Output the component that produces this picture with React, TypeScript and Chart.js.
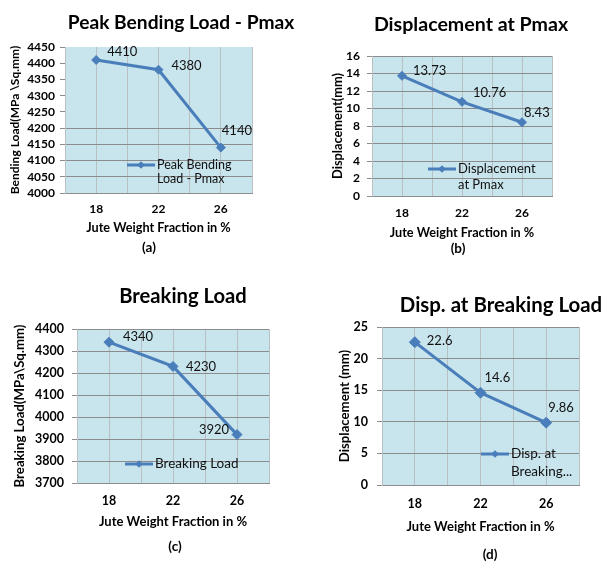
import React, { useEffect, useRef } from "react";
import { Chart, registerables } from "chart.js";

Chart.register(...registerables);

const FONT = "Lato, 'Open Sans', sans-serif";
const LINE_COLOR = "#4A7EBB";
const PLOT_BG = "#C8E4EC";
const HGRID = "#8C8C8C";
const VGRID = "#B8C0C4";

// ---- data ----
const fractions = [18, 22, 26];
const peakLoad = [4410, 4380, 4140];
const dispAtPmax = [13.73, 10.76, 8.43];
const breakingLoad = [4340, 4230, 3920];
const dispAtBreaking = [22.6, 14.6, 9.86];

const xAxisLabel = "Jute Weight Fraction in %";

const peakLoadRange = [4000, 4450, 50];
const dispAtPmaxRange = [0, 16, 2];
const breakingLoadRange = [3700, 4400, 100];
const dispAtBreakingRange = [0, 25, 5];

type Panel = {
  key: string;
  left: number;
  top: number;
  width: number;
  height: number;
  area: { l: number; r: number; t: number; b: number };
  title: string;
  titleSize: number;
  titleX: number;
  titleY: number;
  caption: string;
  capX: number;
  capY: number;
  yTitle: string;
  yTitleSize: number;
  yTitlePad: number;
  xTitleSize: number;
  xTitlePad: number;
  xTickPad: number;
  yTickPad: number;
  tickSize: number;
  values: number[];
  range: number[];
  seriesName: string;
  legendLines: string[];
  legendDx: number;
  legendDy: number;
  legendGap: number;
  legendSize: number;
  labelOffsets: number[][];
  pointRadius: number;
  hideGridAbove?: number;
};

const panels: Panel[] = [
  {
    key: "a", left: 0, top: 0, width: 300, height: 280,
    area: { l: 65, r: 252, t: 47, b: 193 },
    title: "Peak Bending Load - Pmax", titleSize: 19.2, titleX: 181, titleY: 23,
    caption: "(a)", capX: 149, capY: 248,
    yTitle: "Bending Load(MPa \\Sq.mm)", yTitleSize: 12, yTitlePad: 8,
    xTitleSize: 12.7, xTitlePad: 44, xTickPad: 9, yTickPad: 5, tickSize: 12,
    values: peakLoad, range: peakLoadRange,
    seriesName: "Peak Bending Load - Pmax",
    legendLines: ["Peak Bending", "Load - Pmax"], legendDx: 62, legendDy: 118, legendGap: 14, legendSize: 12.5,
    labelOffsets: [[11, -8], [13, -4], [1, -17]],
    pointRadius: 4.5,
    hideGridAbove: 4200,
  },
  {
    key: "b", left: 300, top: 0, width: 304, height: 280,
    area: { l: 72, r: 252, t: 56, b: 196 },
    title: "Displacement at Pmax", titleSize: 19.6, titleX: 171, titleY: 25,
    caption: "(b)", capX: 158, capY: 249,
    yTitle: "Displacement(mm)", yTitleSize: 12.8, yTitlePad: 30,
    xTitleSize: 12.7, xTitlePad: 39, xTickPad: 10, yTickPad: 7, tickSize: 12,
    values: dispAtPmax, range: dispAtPmaxRange,
    seriesName: "Displacement at Pmax",
    legendLines: ["Displacement", "at Pmax"], legendDx: 56, legendDy: 113, legendGap: 16, legendSize: 13,
    labelOffsets: [[11, -5], [11, -9], [2, -9]],
    pointRadius: 4.5,
  },
  {
    key: "c", left: 0, top: 280, width: 300, height: 283,
    area: { l: 77, r: 269, t: 49, b: 203 },
    title: "Breaking Load", titleSize: 20.2, titleX: 183, titleY: 16,
    caption: "(c)", capX: 175, capY: 267,
    yTitle: "Breaking Load(MPa\\Sq.mm)", yTitleSize: 13.2, yTitlePad: 12,
    xTitleSize: 13, xTitlePad: 33, xTickPad: 10, yTickPad: 8, tickSize: 12.5,
    values: breakingLoad, range: breakingLoadRange,
    seriesName: "Breaking Load",
    legendLines: ["Breaking Load"], legendDx: 48, legendDy: 135, legendGap: 16, legendSize: 13.5,
    labelOffsets: [[14, -5], [13, 0], [-38, -5]],
    pointRadius: 5,
  },
  {
    key: "d", left: 300, top: 280, width: 304, height: 283,
    area: { l: 82, r: 279, t: 47, b: 205 },
    title: "Disp. at Breaking Load", titleSize: 20.4, titleX: 201, titleY: 25,
    caption: "(d)", capX: 190, capY: 275,
    yTitle: "Displacement (mm)", yTitleSize: 13.2, yTitlePad: 37,
    xTitleSize: 13, xTitlePad: 28, xTickPad: 11, yTickPad: 9, tickSize: 12.5,
    values: dispAtBreaking, range: dispAtBreakingRange,
    seriesName: "Disp. at Breaking Load",
    legendLines: ["Disp. at", "Breaking..."], legendDx: 99, legendDy: 127, legendGap: 18, legendSize: 13.5,
    labelOffsets: [[12, -1], [4, -15], [2, -15]],
    pointRadius: 5.5,
  },
];

const plotBgPlugin = {
  id: "plotBg",
  beforeDraw(chart: any, _args: any, opts: any) {
    const { ctx, chartArea: a } = chart;
    ctx.save();
    ctx.fillStyle = opts.color;
    ctx.fillRect(a.left, a.top, a.right - a.left, a.bottom - a.top);
    ctx.restore();
  },
};

function diamond(ctx: CanvasRenderingContext2D, x: number, y: number, r: number) {
  ctx.beginPath();
  ctx.moveTo(x, y - r);
  ctx.lineTo(x + r, y);
  ctx.lineTo(x, y + r);
  ctx.lineTo(x - r, y);
  ctx.closePath();
  ctx.fill();
}

const decoPlugin = {
  id: "deco",
  afterDraw(chart: any, _args: any, o: any) {
    const ctx: CanvasRenderingContext2D = chart.ctx;
    const a = chart.chartArea;
    const p: Panel = o.panel;
    ctx.save();
    ctx.textBaseline = "middle";
    // title
    ctx.fillStyle = "#000";
    ctx.textAlign = "center";
    ctx.font = `bold ${p.titleSize}px ${FONT}`;
    ctx.fillText(p.title, p.titleX, p.titleY);
    // caption
    ctx.font = `bold 13.5px ${FONT}`;
    ctx.fillText(p.caption, p.capX, p.capY);
    // data labels
    ctx.font = `13px ${FONT}`;
    ctx.textAlign = "left";
    ctx.fillStyle = "#111";
    const meta = chart.getDatasetMeta(0);
    const ds = chart.data.datasets[0];
    meta.data.forEach((pt: any, i: number) => {
      const [dx, dy] = p.labelOffsets[i];
      ctx.fillText(String(ds.data[i].y), pt.x + dx, pt.y + dy);
    });
    // in-plot legend
    const lx = a.left + p.legendDx;
    const ly = a.top + p.legendDy;
    ctx.strokeStyle = LINE_COLOR;
    ctx.fillStyle = LINE_COLOR;
    ctx.lineWidth = 3;
    ctx.beginPath();
    ctx.moveTo(lx, ly);
    ctx.lineTo(lx + 28, ly);
    ctx.stroke();
    diamond(ctx, lx + 14, ly, 3.8);
    ctx.fillStyle = "#111";
    ctx.font = `${p.legendSize}px ${FONT}`;
    p.legendLines.forEach((line, k) => {
      ctx.fillText(line, lx + 30, ly + k * p.legendGap);
    });
    ctx.restore();
  },
};

function ChartPanel({ p }: { p: Panel }) {
  const ref = useRef<HTMLCanvasElement | null>(null);
  useEffect(() => {
    if (!ref.current) return;
    const [yMin, yMax, yStep] = p.range;
    const chart = new Chart(ref.current, {
      type: "line",
      data: {
        datasets: [
          {
            label: p.seriesName,
            data: fractions.map((x, i) => ({ x, y: p.values[i] })),
            borderColor: LINE_COLOR,
            backgroundColor: LINE_COLOR,
            borderWidth: 3,
            pointStyle: "rectRot",
            pointRadius: p.pointRadius,
            pointBorderWidth: 1,
            pointBackgroundColor: LINE_COLOR,
            pointBorderColor: LINE_COLOR,
            tension: 0,
          },
        ],
      },
      options: {
        animation: false,
        responsive: false,
        layout: { padding: { top: p.area.t, left: 0, right: p.width - p.area.r, bottom: 0 } },
        plugins: {
          legend: { display: false },
          title: { display: false },
          tooltip: { enabled: false },
          plotBg: { color: PLOT_BG },
          deco: { panel: p },
        } as any,
        scales: {
          x: {
            type: "linear",
            min: 16,
            max: 28,
            afterFit: (s: any) => { s.height = p.height - p.area.b; },
            ticks: {
              stepSize: 2,
              autoSkip: false,
              maxRotation: 0,
              padding: p.xTickPad,
              color: "#000",
              font: { family: FONT, size: p.tickSize, weight: "bold" },
              callback: (v: any) => (fractions.includes(Number(v)) ? String(v) : ""),
            },
            grid: { color: VGRID, drawTicks: false, lineWidth: 1 },
            border: { color: "#8C8C8C", width: 1 },
            title: {
              display: true,
              text: xAxisLabel,
              color: "#000",
              font: { family: FONT, size: p.xTitleSize, weight: "bold" },
              padding: { top: 0, bottom: p.xTitlePad },
            },
          },
          y: {
            type: "linear",
            min: yMin,
            max: yMax,
            afterFit: (s: any) => { s.width = p.area.l; },
            ticks: {
              stepSize: yStep,
              autoSkip: false,
              padding: p.yTickPad,
              color: "#000",
              font: { family: FONT, size: p.tickSize, weight: "bold" },
              callback: (v: any) => String(v),
            },
            grid: {
              color: (c: any) =>
                p.hideGridAbove !== undefined && c.tick && c.tick.value > p.hideGridAbove
                  ? "rgba(0,0,0,0)"
                  : HGRID,
              tickColor: HGRID,
              tickLength: 5,
              lineWidth: 1,
            },
            border: { color: VGRID, width: 1 },
            title: {
              display: true,
              text: p.yTitle,
              color: "#000",
              font: { family: FONT, size: p.yTitleSize, weight: "bold" },
              padding: { top: p.yTitlePad, bottom: 0 },
            },
          },
        },
      } as any,
      plugins: [plotBgPlugin, decoPlugin],
    });
    return () => chart.destroy();
  }, [p]);
  return (
    <canvas
      ref={ref}
      width={p.width}
      height={p.height}
      style={{ position: "absolute", left: p.left, top: p.top, width: p.width, height: p.height }}
    />
  );
}

export default function App() {
  return (
    <div style={{ position: "absolute", left: 0, top: 0, width: 604, height: 563, background: "#fff" }}>
      {panels.map((p) => (
        <ChartPanel key={p.key} p={p} />
      ))}
    </div>
  );
}
